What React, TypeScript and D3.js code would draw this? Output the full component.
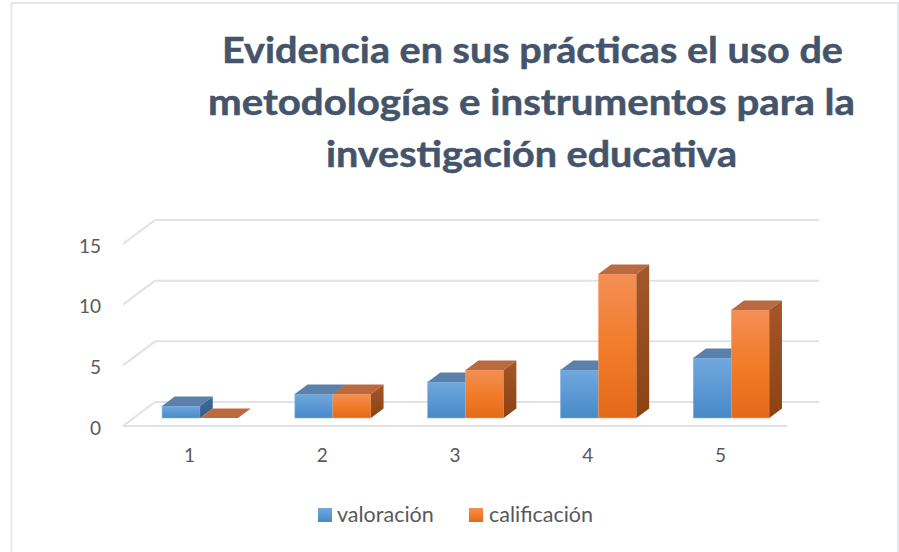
import React from "react";
import * as d3 from "d3";

const categories = ["1", "2", "3", "4", "5"];
const seriesNames = ["valoración", "calificación"];
const valoracion = [1, 2, 3, 4, 5];
const calificacion = [0, 2, 4, 12, 9];
const yTicks = [0, 5, 10, 15];
const titleLines = [
  "Evidencia en sus prácticas el uso de",
  "metodologías e instrumentos para la",
  "investigación educativa",
];

const W = 899;
const H = 552;
const FONT = "Lato, 'Open Sans', 'Liberation Sans', sans-serif";

export default function App() {
  // floor geometry
  const x = d3.scaleBand().domain(categories).range([123, 787]);
  const y = d3.scaleLinear().domain([0, 15]).range([426, 244]);
  // bars sit deeper in the perspective box, so they scale slightly smaller
  const hBar = d3.scaleLinear().domain([0, 15]).range([0, 180]);
  const DX = 32; // full depth offset
  const DY = -24;
  const f0 = 1 / 3; // bar front depth fraction
  const bdx = 12.7; // bar depth
  const bdy = -9.5;
  const barW = 38;

  const series = [
    { name: seriesNames[0], values: valoracion, front: "url(#gBlue)", top: "#5b81aa", side: "url(#gBlueSide)", stroke: "#86b4e2" },
    { name: seriesNames[1], values: calificacion, front: "url(#gOrange)", top: "#ba6a3e", side: "url(#gOrangeSide)", stroke: "#f6a677" },
  ];

  const pts = (arr: [number, number][]) => arr.map((p) => p.join(",")).join(" ");

  const bars: React.ReactNode[] = [];
  categories.forEach((c, i) => {
    const cx = (x(c) as number) + x.bandwidth() / 2 + DX * f0;
    const baseY = y(0) + DY * f0;
    series.forEach((s, si) => {
      const v = s.values[i];
      const x0 = cx - barW + si * barW;
      const x1 = x0 + barW;
      const yTop = baseY - hBar(v);
      const yBot = baseY;
      bars.push(
        <g key={`${c}-${si}`}>
          {v > 0 && (
            <rect x={x0} y={yTop} width={barW} height={yBot - yTop} fill={s.front} stroke={s.stroke} strokeWidth={0.6} />
          )}
          <polygon
            points={pts([
              [x0, yTop],
              [x1, yTop],
              [x1 + bdx, yTop + bdy],
              [x0 + bdx, yTop + bdy],
            ])}
            fill={s.top}
          />
          {v > 0 && (
            <polygon
              points={pts([
                [x1, yTop],
                [x1 + bdx, yTop + bdy],
                [x1 + bdx, yBot + bdy],
                [x1, yBot],
              ])}
              fill={s.side}
            />
          )}
        </g>
      );
    });
  });

  const gridColor = "#dfe2e7";
  const backX0 = 123 + DX;
  const backX1 = 787 + DX;

  return (
    <svg
      width={W}
      height={H}
      style={{ position: "absolute", left: 0, top: 0, background: "#fff" }}
      fontFamily={FONT}
    >
      <defs>
        <linearGradient id="gBlue" x1="0" y1="0" x2="0" y2="1">
          <stop offset="0" stopColor="#71a8de" />
          <stop offset="1" stopColor="#4789c8" />
        </linearGradient>
        <linearGradient id="gBlueSide" x1="0" y1="0" x2="0" y2="1">
          <stop offset="0" stopColor="#3f6b98" />
          <stop offset="1" stopColor="#345d88" />
        </linearGradient>
        <linearGradient id="gOrange" x1="0" y1="0" x2="0" y2="1">
          <stop offset="0" stopColor="#f38f55" />
          <stop offset="0.5" stopColor="#f27c2a" />
          <stop offset="1" stopColor="#e4691a" />
        </linearGradient>
        <linearGradient id="gOrangeSide" x1="0" y1="0" x2="0" y2="1">
          <stop offset="0" stopColor="#a4572a" />
          <stop offset="1" stopColor="#8c4212" />
        </linearGradient>
      </defs>

      {/* chart border */}
      <rect x={11.5} y={3} width={886.5} height={560} fill="none" stroke="#e3e6ea" strokeWidth={1.8} />

      {/* title */}
      <g fill="#44546a" fontWeight={700} fontSize={35.5} textAnchor="middle" stroke="#44546a" strokeWidth={0.5}>
        {titleLines.map((t, i) => (
          <text
            key={i}
            x={[532.5, 531.5, 531.5][i]}
            y={63 + i * 52}
            textLength={[621, 647, 411][i]}
            lengthAdjust="spacingAndGlyphs"
          >
            {t}
          </text>
        ))}
      </g>

      {/* gridlines */}
      <g stroke={gridColor} strokeWidth={2} fill="none">
        {yTicks.map((t) => (
          <g key={t}>
            <line x1={123} y1={y(t)} x2={backX0} y2={y(t) + DY} />
            <line x1={backX0} y1={y(t) + DY} x2={backX1} y2={y(t) + DY} />
          </g>
        ))}
        <line x1={123} y1={y(0)} x2={787} y2={y(0)} />
      </g>

      {/* y labels */}
      <g fill="#595959" fontSize={19} textAnchor="end">
        {yTicks.map((t) => (
          <text key={t} x={101} y={y(t) + 8.5}>
            {t}
          </text>
        ))}
      </g>

      {/* bars */}
      {bars}

      {/* x labels */}
      <g fill="#595959" fontSize={19} textAnchor="middle">
        {categories.map((c) => (
          <text key={c} x={(x(c) as number) + x.bandwidth() / 2} y={462}>
            {c}
          </text>
        ))}
      </g>

      {/* legend */}
      <g fontSize={21.5} fill="#595959">
        <rect x={318} y={508} width={14} height={14} fill="url(#gBlue)" />
        <text x={337} y={522}>{seriesNames[0]}</text>
        <rect x={469} y={508} width={14} height={14} fill="url(#gOrange)" />
        <text x={489} y={522}>{seriesNames[1]}</text>
      </g>
    </svg>
  );
}
